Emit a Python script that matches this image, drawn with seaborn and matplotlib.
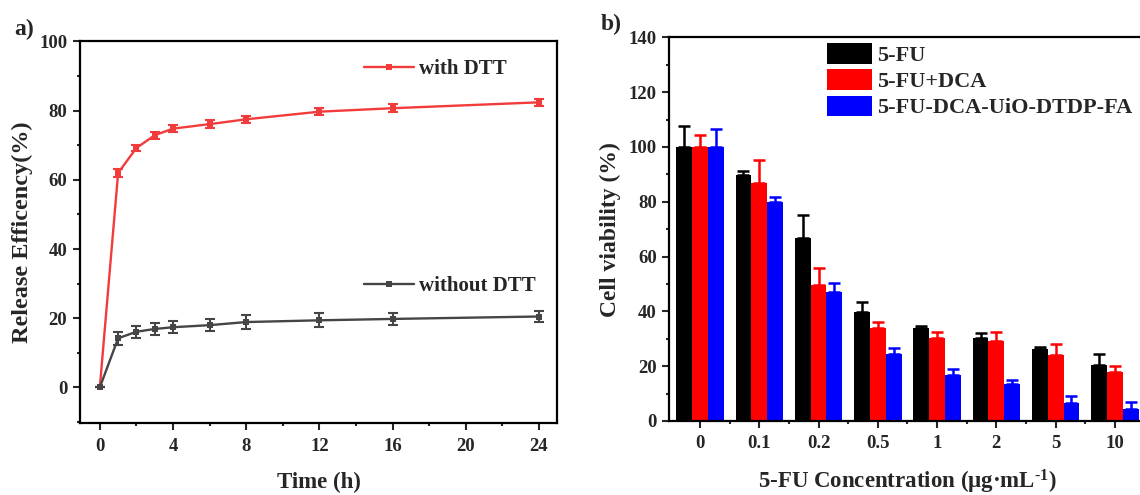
import numpy as np
import pandas as pd
import matplotlib
matplotlib.use("Agg")
import matplotlib.pyplot as plt
import seaborn as sns
from matplotlib.ticker import FixedLocator
from matplotlib.lines import Line2D

# ---------------- data ----------------
time_h = [0, 1, 2, 3, 4, 6, 8, 12, 16, 24]
with_dtt = [0, 62.0, 69.2, 72.9, 74.8, 76.1, 77.5, 79.7, 80.7, 82.4]
with_dtt_err = [0, 1.2, 1.0, 1.05, 1.0, 1.05, 1.05, 1.1, 1.1, 1.1]
without_dtt = [0, 14.2, 16.1, 16.9, 17.4, 18.0, 18.9, 19.4, 19.8, 20.5]
without_dtt_err = [0, 1.8, 1.7, 1.7, 1.7, 1.7, 2.1, 2.0, 1.8, 1.55]
release_series = ["with DTT", "without DTT"]

conc_labels = ["0", "0.1", "0.2", "0.5", "1", "2", "5", "10"]
groups = ["5-FU", "5-FU+DCA", "5-FU-DCA-UiO-DTDP-FA"]
fu = [100, 89.8, 66.7, 39.9, 34.0, 30.3, 26.4, 20.6]
fu_err = [7.7, 1.5, 8.4, 3.4, 0.7, 1.7, 0.7, 3.7]
fu_dca = [100, 86.9, 49.8, 34.0, 30.4, 29.2, 24.1, 18.0]
fu_dca_err = [4.5, 8.3, 6.1, 2.0, 2.0, 3.3, 4.0, 2.2]
nano = [100, 79.9, 47.0, 24.6, 16.7, 13.6, 6.6, 4.3]
nano_err = [6.4, 1.9, 3.3, 2.1, 2.4, 1.3, 2.5, 2.8]

# ---------------- style ----------------
sns.set_style("ticks")
plt.rcParams["font.family"] = ["Liberation Serif", "DejaVu Serif"]
plt.rcParams["font.weight"] = "bold"
plt.rcParams["axes.labelweight"] = "bold"
plt.rcParams["mathtext.fontset"] = "custom"
plt.rcParams["mathtext.rm"] = "Liberation Serif:bold"
plt.rcParams["mathtext.bf"] = "Liberation Serif:bold"
plt.rcParams["mathtext.default"] = "rm"
plt.rcParams["axes.linewidth"] = 1.6
plt.rcParams["axes.edgecolor"] = "black"

red_line = "#f23b3b"
gray_line = "#454545"
bar_colors = {"5-FU": "#000000", "5-FU+DCA": "#ff0000", "5-FU-DCA-UiO-DTDP-FA": "#0000ff"}

TICK = 13.5
LABEL = 16.5

fig = plt.figure(figsize=(11.4, 4.95), dpi=100)

# ---------------- panel a ----------------
axL = fig.add_axes([0.0699, 0.146, 0.419, 0.771])
dfL = pd.DataFrame({
    "Time": time_h * 2,
    "Release": with_dtt + without_dtt,
    "cond": [release_series[0]] * len(time_h) + [release_series[1]] * len(time_h),
})
pal_L = {release_series[0]: red_line, release_series[1]: gray_line}
sns.lineplot(data=dfL, x="Time", y="Release", hue="cond", hue_order=release_series,
             palette=pal_L, marker="s", markersize=4, markeredgewidth=0,
             linewidth=1.7, ax=axL, legend=False)
axL.errorbar(time_h, with_dtt, yerr=with_dtt_err, fmt="none", ecolor=red_line,
             elinewidth=1.5, capsize=3.5, capthick=1.5)
axL.errorbar(time_h, without_dtt, yerr=without_dtt_err, fmt="none", ecolor=gray_line,
             elinewidth=1.5, capsize=3.5, capthick=1.5)

axL.set_xlim(-1.1, 25)
axL.set_ylim(-10.2, 100.1)
axL.xaxis.set_major_locator(FixedLocator([0, 4, 8, 12, 16, 20, 24]))
axL.xaxis.set_minor_locator(FixedLocator([2, 6, 10, 14, 18, 22]))
axL.yaxis.set_major_locator(FixedLocator([0, 20, 40, 60, 80, 100]))
axL.yaxis.set_minor_locator(FixedLocator([-10, 10, 30, 50, 70, 90]))
for sp in axL.spines.values():
    sp.set_visible(True)
    sp.set_linewidth(1.6)
axL.tick_params(axis="both", which="major", direction="out", length=5, width=1.5,
                labelsize=TICK, top=False, right=False)
axL.tick_params(axis="both", which="minor", direction="out", length=2.5, width=1.5,
                top=False, right=False)
axL.tick_params(axis="x", which="major", pad=6)
axL.tick_params(axis="y", which="major", pad=4)
axL.set_xlabel("Time (h)", fontsize=LABEL, fontweight="bold")
axL.set_ylabel("Release Efficency(%)", fontsize=LABEL + 1, fontweight="bold")
axL.xaxis.set_label_coords(0.5, -0.13)
axL.yaxis.set_label_coords(-0.097, 0.5)

h1 = Line2D([], [], color=red_line, marker="s", markersize=4, markeredgewidth=0, linewidth=1.7)
h2 = Line2D([], [], color=gray_line, marker="s", markersize=4, markeredgewidth=0, linewidth=1.7)
legA = axL.legend([h1], [release_series[0]], loc="center left", bbox_to_anchor=(0.595, 0.926),
                  frameon=False, fontsize=15, handlelength=2.4, handletextpad=0.25,
                  borderpad=0, borderaxespad=0)
axL.add_artist(legA)
legB = axL.legend([h2], [release_series[1]], loc="center left", bbox_to_anchor=(0.595, 0.358),
                  frameon=False, fontsize=15, handlelength=2.4, handletextpad=0.25,
                  borderpad=0, borderaxespad=0)

# ---------------- panel b ----------------
axR = fig.add_axes([0.587, 0.1495, 0.418, 0.775])
vals = {"5-FU": fu, "5-FU+DCA": fu_dca, "5-FU-DCA-UiO-DTDP-FA": nano}
errs = {"5-FU": fu_err, "5-FU+DCA": fu_dca_err, "5-FU-DCA-UiO-DTDP-FA": nano_err}
rows = []
for g in groups:
    for c, v in zip(conc_labels, vals[g]):
        rows.append({"conc": c, "viability": v, "group": g})
dfR = pd.DataFrame(rows)
sns.barplot(data=dfR, x="conc", y="viability", hue="group", order=conc_labels,
            hue_order=groups, palette=bar_colors, saturation=1, width=0.8,
            errorbar=None, linewidth=0, ax=axR)
bar_conts = list(axR.containers)
handles = [cont.patches[0] for cont in bar_conts]

for g, cont in zip(groups, bar_conts):
    xs = [r.get_x() + r.get_width() / 2 for r in cont.patches]
    ys = [r.get_height() for r in cont.patches]
    e = errs[g]
    axR.errorbar(xs, ys, yerr=[np.zeros(len(e)), e], fmt="none", ecolor=bar_colors[g],
                 elinewidth=1.8, capsize=4.5, capthick=1.8, zorder=1)

axR.set_xlim(-0.52, 7.52)
axR.set_ylim(0, 140)
axR.yaxis.set_major_locator(FixedLocator(np.arange(0, 141, 20)))
axR.yaxis.set_minor_locator(FixedLocator(np.arange(10, 140, 20)))
axR.xaxis.set_minor_locator(FixedLocator(np.arange(0.5, 7.5, 1)))
for sp in axR.spines.values():
    sp.set_visible(True)
    sp.set_linewidth(1.6)
axR.tick_params(axis="both", which="major", direction="out", length=5, width=1.5,
                labelsize=TICK, top=False, right=False)
axR.tick_params(axis="both", which="minor", direction="out", length=2.5, width=1.5,
                top=False, right=False)
axR.tick_params(axis="x", which="major", pad=5)
axR.tick_params(axis="y", which="major", pad=4)
axR.set_xlabel(r"5-FU Concentration (μg·mL$^{\text{-1}}$)", fontsize=LABEL, fontweight="bold")
axR.set_ylabel("Cell viability (%)", fontsize=LABEL + 0.5, fontweight="bold")
axR.xaxis.set_label_coords(0.5, -0.122)
axR.yaxis.set_label_coords(-0.101, 0.5)

axR.legend(handles, groups, loc="upper left", bbox_to_anchor=(0.332, 0.985),
           frameon=False, fontsize=16, handlelength=2.0, handleheight=1.05,
           handletextpad=0.25, labelspacing=0.15, borderpad=0, borderaxespad=0)

fig.text(24 / 1140, 1 - 29 / 495, "a)", ha="center", va="center", fontsize=17, fontweight="bold")
fig.text(611 / 1140, 1 - 24 / 495, "b)", ha="center", va="center", fontsize=17, fontweight="bold")

fig.savefig("out.png", dpi=100)
